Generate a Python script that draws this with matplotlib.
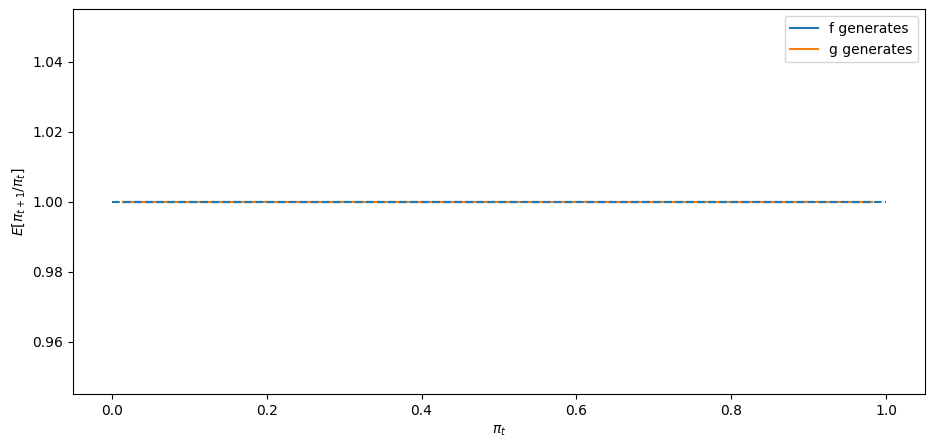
import numpy as np
import matplotlib
matplotlib.use("Agg")
import matplotlib.pyplot as plt

pi_t = [0.015, 0.1, 0.2, 0.3, 0.4, 0.5, 0.6, 0.7, 0.8, 0.9, 0.982]
ratio_f = [1.0] * len(pi_t)
ratio_g = [1.0] * len(pi_t)
ref_level = 1.0
ref_span = [0.0, 1.0]

fig = plt.figure(figsize=(9.35, 4.48), dpi=100)
ax = fig.add_axes([73/935, 1-394/448, 852/935, (394-9.5)/448])
ax.plot(pi_t, ratio_f, label='f generates')
ax.plot(pi_t, ratio_g, label='g generates')
ax.hlines(ref_level, ref_span[0], ref_span[1], linestyle='--')
ax.set_xlabel(r'$\pi_t$')
ax.set_ylabel(r'$E[\pi_{t+1}/\pi_t]$')
ax.legend()
fig.savefig('out.png', dpi=100)
